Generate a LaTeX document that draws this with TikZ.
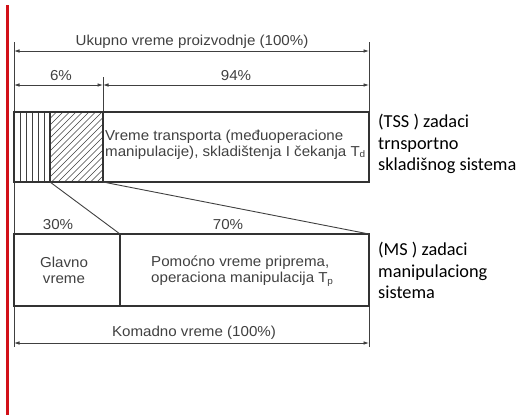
\documentclass[tikz,border=0pt]{standalone}
\usepackage{fontspec}
\setmainfont{Liberation Sans}
\newfontfamily\diagfont[FakeStretch=1.05]{Liberation Sans}
\newfontfamily\notefont{Carlito}
\usetikzlibrary{arrows.meta}
\definecolor{ink}{HTML}{404040}
\definecolor{boxink}{HTML}{333333}
\definecolor{marginred}{RGB}{210,16,24}
\newcommand{\sbs}[1]{\raisebox{-1.6pt}{\fontsize{9.5}{9.5}\selectfont #1}}
\begin{document}
\begin{tikzpicture}[x=1pt,y=-1pt,
  dimline/.style={draw=ink, line width=0.8pt, {Latex[length=5.5pt,width=3.6pt]}-{Latex[length=5.5pt,width=3.6pt]}},
  guide/.style={draw=ink, line width=0.9pt},
  boxline/.style={draw=boxink, line width=1.3pt},
  hatch/.style={draw=ink, line width=0.7pt},
  lbl/.style={text=ink, font=\diagfont\fontsize{14.4}{15.5}\selectfont, inner sep=0pt},
  lbltwo/.style={lbl, align=left, font=\diagfont\fontsize{14.4}{16}\selectfont},
  note/.style={text=black, font=\notefont\fontsize{18.3}{21.5}\selectfont, align=left, inner sep=0pt, anchor=north west}
]
\useasboundingbox (0,0) rectangle (520,415);
% red margin line
\fill[fill=marginred] (6.4,5) rectangle (8.6,415);

% key coordinates
\coordinate (L0) at (14,42);
\coordinate (L1) at (14,347);
\coordinate (R0) at (369,42);
\coordinate (R1) at (369,182);
\coordinate (R2) at (369,234);
\coordinate (R3) at (369,347);
\coordinate (M0) at (103,77);
\coordinate (M1) at (103,182);
\coordinate (H0) at (50,112);
\coordinate (H1) at (50,182);
\coordinate (G0) at (120,234);
\coordinate (G1) at (120,306);

% extension lines
\draw[guide] (L0) -- (L1);
\draw[guide] (R0) -- (R1);
\draw[guide] (R2) -- (R3);
\draw[guide] (M0) -- (M1);

% dimension arrows
\coordinate (a1l) at (14,51);  \coordinate (a1r) at (369,51);
\coordinate (a2l) at (14,85);  \coordinate (a2m) at (103,85); \coordinate (a2r) at (369,85);
\coordinate (a3l) at (14,343); \coordinate (a3r) at (369,343);
\draw[dimline] (a1l) -- (a1r);
\draw[dimline] (a2l) -- (a2m);
\draw[dimline] (a2m) -- (a2r);
\draw[dimline] (a3l) -- (a3r);

% hatching
\begin{scope}
  \clip (14,112) rectangle (50,182);
  \foreach \x in {20,26,32,38,44} \draw[hatch] (\x,112) -- (\x,182);
\end{scope}
\begin{scope}
  \clip (50,112) rectangle (103,182);
  \foreach \x in {-20,-13.5,...,110} \draw[hatch] (\x,182) -- (\x+70,112);
\end{scope}

% top box
\draw[boxline] (14,112) rectangle (369,182);
\draw[boxline] (H0) -- (H1);
\draw[boxline] (M0 |- H0) -- (M1);

% lower box
\draw[boxline] (14,234) rectangle (369,306);
\draw[boxline] (G0) -- (G1);

% connecting lines
\draw[guide] (H1) -- (G0);
\draw[guide] (M1) -- (R2);

% labels
\node[lbl] (ukupno) at (192,42) {Ukupno vreme proizvodnje (100\%)};
\node[lbl] (p6) at (61,76) {6\%};
\node[lbl] (p94) at (236,76) {94\%};
\node[lbltwo, anchor=west] (transp) at (105,144.5) {Vreme transporta (međuoperacione\\manipulacije), skladištenja I čekanja T\kern-0.3pt\sbs{d}};
\node[lbl] (p30) at (58,225) {30\%};
\node[lbl] (p70) at (228,225) {70\%};
\node[lbltwo, align=center] (glavno) at (64,270) {Glavno\\vreme};
\node[lbltwo, anchor=west] (pomocno) at (151,271) {Pomoćno vreme priprema,\\operaciona manipulacija T\kern-0.3pt\sbs{p}};
\node[lbl] (komadno) at (194,333) {Komadno vreme (100\%)};

% side notes
\node[note] (tss) at (378,114) {(TSS ) zadaci\\trnsportno\\skladišnog sistema};
\node[note] (ms) at (378,242) {(MS ) zadaci\\manipulaciong\\sistema};
\end{tikzpicture}
\end{document}
